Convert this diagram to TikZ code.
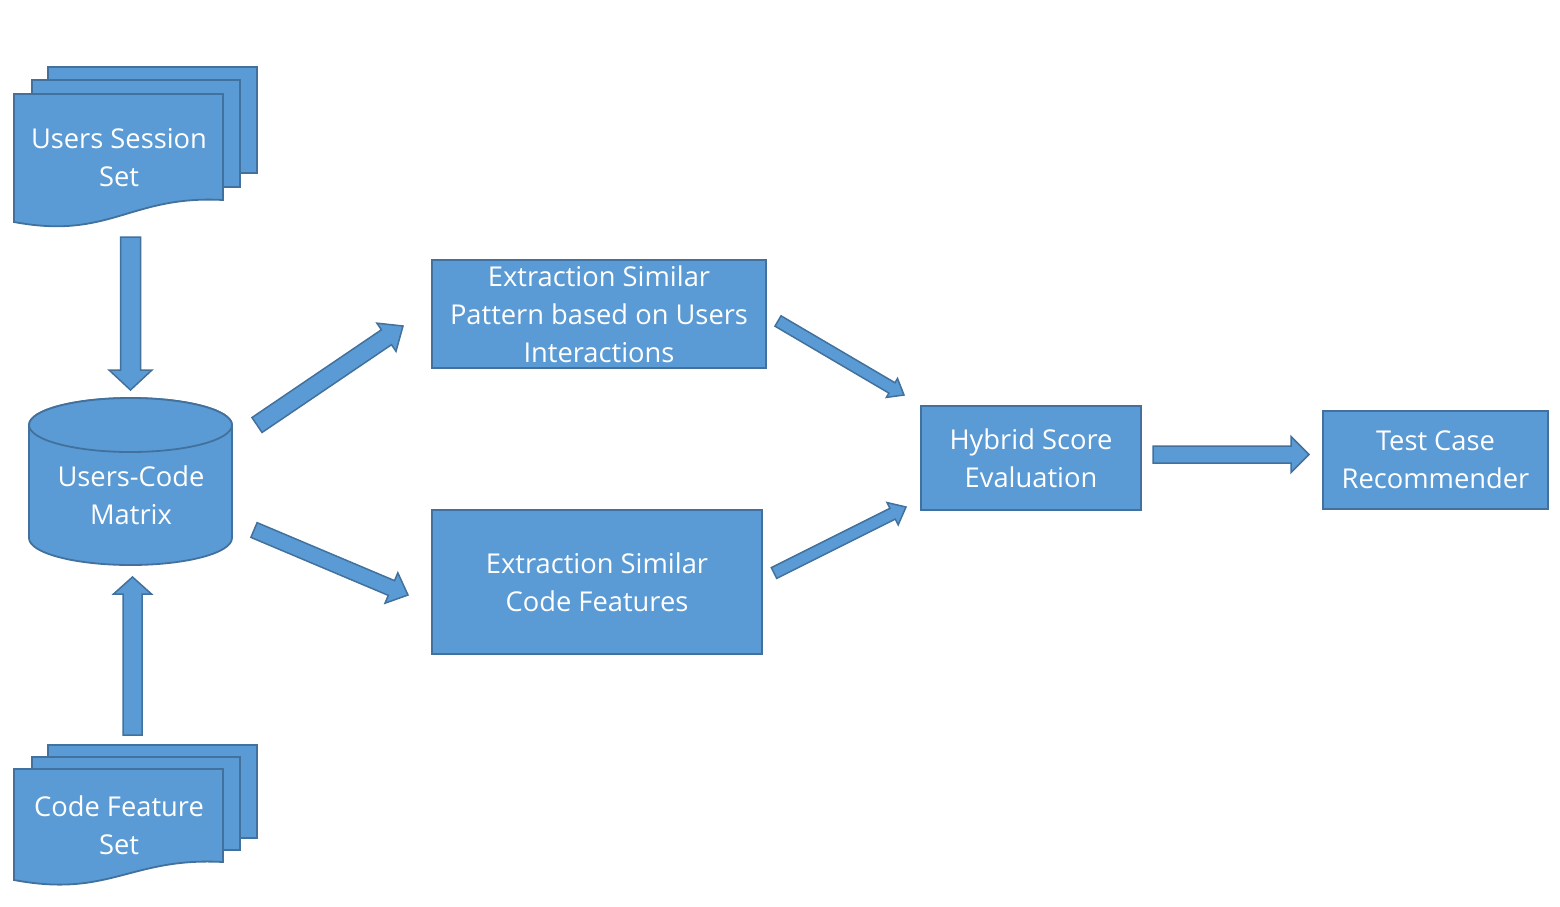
\documentclass[tikz,border=0pt]{standalone}
\usepackage{fontspec}
\setmainfont{Open Sans}
\usetikzlibrary{calc}
\definecolor{blu}{HTML}{5B9BD5}
\definecolor{bdr}{HTML}{41719C}
\tikzset{
  shp/.style={draw=bdr, fill=blu, line width=1.8pt, line join=miter},
  boxnode/.style={shp, rectangle, inner sep=0pt, align=center, text=white,
    font=\fontsize{27.3}{38}\selectfont},
  lbl/.style={align=center, text=white, inner sep=0pt, font=\fontsize{27.3}{38}\selectfont},
  barrow/.style={draw=bdr, fill=blu, line width=1.5pt, line join=miter}
}
% #1 tail, #2 tip, #3 half shaft width, #4 half head width, #5 head length
\newcommand\blockarr[5]{%
  \draw[barrow] let \p1=(#1), \p2=(#2),
    \n1={veclen(\x2-\x1,\y2-\y1)},
    \n2={(\x2-\x1)/\n1}, \n3={(\y2-\y1)/\n1} in
    ({\x1-#3*\n3},{\y1+#3*\n2}) --
    ({\x2-#5*\n2-#3*\n3},{\y2-#5*\n3+#3*\n2}) --
    ({\x2-#5*\n2-#4*\n3},{\y2-#5*\n3+#4*\n2}) --
    (\p2) --
    ({\x2-#5*\n2+#4*\n3},{\y2-#5*\n3-#4*\n2}) --
    ({\x2-#5*\n2+#3*\n3},{\y2-#5*\n3-#3*\n2}) --
    ({\x1+#3*\n3},{\y1-#3*\n2}) -- cycle;}
\begin{document}
\begin{tikzpicture}[x=1pt, y=-1pt]
\useasboundingbox[fill=white] (0,0) rectangle (1560,906);

% Users Session Set (multi-document)
\draw[shp] (48,67) rectangle (257,173);
\draw[shp] (32,80) rectangle (240,187);
\draw[shp] (14,94) -- (223,94) -- (223,200) .. controls (130,195) and (110,240) .. (14,222) -- cycle;
\node[lbl] (uss) at (119,158) {Users Session\\Set};

% Code Feature Set (multi-document)
\draw[shp] (48,745) rectangle (257,838);
\draw[shp] (32,757) rectangle (240,850);
\draw[shp] (14,769) -- (223,769) -- (223,862) .. controls (130,857) and (110,898) .. (14,880) -- cycle;
\node[lbl] (cfs) at (119,825) {Code Feature\\Set};

% Users-Code Matrix (cylinder)
\draw[shp] (29,425) -- (29,538) arc[start angle=180, end angle=0, x radius=101.5, y radius=27]
  -- (232,425) arc[start angle=0, end angle=-180, x radius=101.5, y radius=27] -- cycle;
\draw[shp] (130.5,425) ellipse [x radius=101.5, y radius=27];
\node[lbl] (ucm) at (131,495) {Users-Code\\Matrix};

% Process boxes
\node[boxnode, minimum width=334pt, minimum height=108pt] (esp) at (599,314)
  {Extraction Similar\\Pattern based on Users\\Interactions};
\node[boxnode, minimum width=330pt, minimum height=144pt] (esc) at (597,582)
  {Extraction Similar\\Code Features};
\node[boxnode, minimum width=220pt, minimum height=104pt] (hse) at (1031,458)
  {Hybrid Score\\Evaluation};
\node[boxnode, minimum width=225pt, minimum height=98pt] (tcr) at (1435.5,460)
  {Test Case\\Recommender};

% Arrow end coordinates
\coordinate (a1t) at (130.5,237);  \coordinate (a1h) at (130.5,390);
\coordinate (a2t) at (132.5,735);  \coordinate (a2h) at (132.5,577);
\coordinate (a3t) at (257,425);    \coordinate (a3h) at (403,326);
\coordinate (a4t) at (254,530);    \coordinate (a4h) at (408,595);
\coordinate (a5t) at (778,321);    \coordinate (a5h) at (904,395);
\coordinate (a6t) at (774,573);    \coordinate (a6h) at (906,507);
\coordinate (a7t) at (1153,454.5); \coordinate (a7h) at (1309,454.5);

\blockarr{a1t}{a1h}{10}{21.5}{20}
\blockarr{a2t}{a2h}{9.5}{19}{17}
\blockarr{a3t}{a3h}{9}{17}{20}
\blockarr{a4t}{a4h}{8}{16.5}{18}
\blockarr{a5t}{a5h}{6}{11}{14}
\blockarr{a6t}{a6h}{6}{12.5}{15}
\blockarr{a7t}{a7h}{8.5}{18}{18}
\end{tikzpicture}
\end{document}
